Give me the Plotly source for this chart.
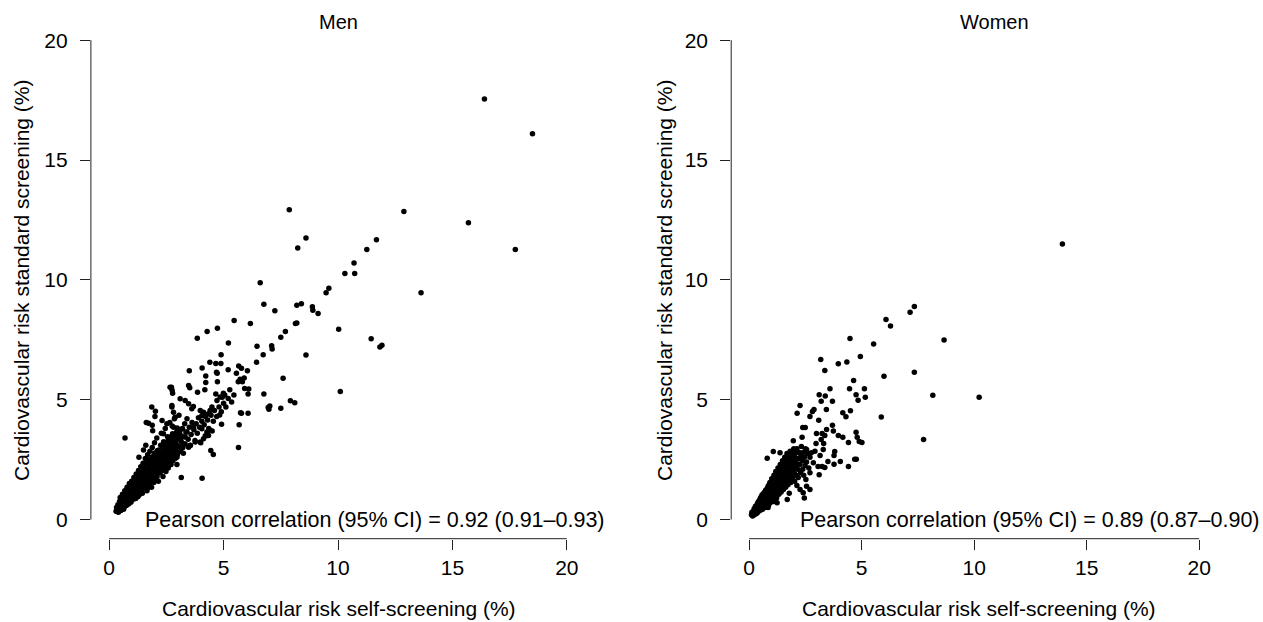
import plotly.graph_objects as go

# values (risk in %)
men_points = [
    (16.4, 17.55), (18.5, 16.1), (7.87, 12.92), (12.88, 12.85), (15.7, 12.38), (17.75, 11.27),
    (8.6, 11.75), (8.24, 11.33), (11.68, 11.67), (11.26, 11.27), (10.7, 10.7), (10.73, 10.26),
    (10.3, 10.26), (6.6, 9.88), (13.63, 9.46), (9.6, 9.65), (9.48, 9.46), (8.2, 8.94), (8.4, 9.0),
    (8.88, 8.88), (8.9, 8.73), (9.13, 8.6), (10.03, 7.94), (8.2, 8.2), (8.14, 8.18), (11.45, 7.54),
    (11.92, 7.27), (11.83, 7.2), (8.6, 6.86), (10.1, 5.34), (8.11, 4.87),
    (6.76, 8.98), (7.24, 8.71), (5.46, 8.3), (6.17, 8.18), (4.73, 7.98), (4.28, 7.84), (3.85, 7.56),
    (7.7, 7.84), (7.5, 7.6), (5.21, 7.37), (6.46, 7.23), (7.1, 7.25), (7.12, 7.12), (4.89, 6.87),
    (6.73, 6.87), (6.44, 6.56), (4.4, 6.56), (4.66, 6.51), (4.88, 6.51), (3.5, 6.21), (4.06, 6.32),
    (4.69, 6.14), (4.72, 6.1), (5.2, 6.25), (5.66, 6.41), (5.78, 6.31), (6.04, 6.21), (5.56, 6.1),
    (5.72, 5.85), (5.82, 5.75), (5.64, 5.75), (5.9, 5.9), (4.22, 5.99), (4.22, 5.72), (4.73, 5.75),
    (3.52, 5.5), (2.72, 5.52), (2.77, 5.27), (3.86, 5.31), (4.18, 5.41), (4.66, 5.24), (4.94, 5.1),
    (5.05, 5.2), (5.27, 5.41), (5.92, 5.47), (6.07, 5.24), (6.1, 5.45), (6.76, 5.24), (7.6, 5.89),
    (7.92, 4.96), (6.95, 4.67), (7.02, 4.74), (7.5, 4.64), (5.74, 4.46), (5.78, 4.43), (6.07, 4.43),
    (5.68, 3.95), (4.91, 3.97), (4.83, 4.36), (4.5, 3.69), (5.65, 3.0), (4.55, 2.71), (4.06, 1.72),
    (3.15, 1.75), (6.98, 4.6),
    (2.74, 4.69), (2.81, 4.48), (2.88, 4.27), (3.1, 5.04), (3.32, 4.97), (3.47, 4.83), (3.61, 4.62),
    (3.68, 4.72), (3.98, 4.55), (4.05, 4.34), (4.12, 4.48), (4.34, 4.41), (4.41, 4.55), (4.49, 4.69),
    (4.71, 4.97), (4.85, 5.11), (4.99, 5.27), (2.52, 4.0), (2.81, 3.85), (3.1, 3.72), (3.4, 3.65),
    (3.68, 3.85), (4.05, 3.79), (4.27, 3.65), (2.37, 3.58), (2.66, 3.44), (3.1, 3.37),
    (4.44, 2.88), (3.24, 2.77), (3.54, 3.09), (3.98, 3.23), (4.12, 3.37), (4.34, 3.51), (4.41, 3.72),
    (2.96, 2.3), (2.7, 2.3), (3.47, 3.02), (3.76, 3.23), (4.2, 3.5), (3.32, 3.44), (3.25, 3.16),
    (2.96, 2.6), (2.52, 2.88), (2.08, 2.25),
    (0.69, 3.4), (1.62, 4.05), (2.02, 4.52), (2.0, 4.3), (1.88, 3.93), (2.31, 4.13), (1.72, 4.02),
    (1.86, 4.69), (2.66, 5.52), (2.74, 4.76), (3.47, 5.59), (2.75, 5.39), (1.3, 2.6), (1.5, 2.9),
    (1.6, 3.1), (1.9, 3.7),
    (0.30, 0.35), (0.32, 0.50), (0.35, 0.42), (0.38, 0.62), (0.40, 0.30), (0.42, 0.55), (0.45, 0.75),
    (0.46, 0.40), (0.48, 0.92), (0.50, 0.52), (0.52, 0.65), (0.55, 0.45), (0.55, 0.85), (0.58, 1.05),
    (0.60, 0.60), (0.62, 0.75), (0.65, 0.95), (0.65, 0.50), (0.68, 1.20), (0.70, 0.70), (0.72, 0.85),
    (0.75, 1.00), (0.75, 0.58), (0.78, 1.35), (0.80, 0.80), (0.82, 0.95), (0.85, 1.15), (0.85, 0.65),
    (0.88, 1.50), (0.90, 0.90), (0.92, 1.05), (0.95, 1.25), (0.95, 0.72), (0.98, 1.60), (1.00, 1.00),
    (1.02, 1.15), (1.05, 0.85), (1.05, 1.35), (1.08, 1.75), (1.10, 1.10), (1.12, 0.95), (1.15, 1.25),
    (1.15, 1.50), (1.18, 1.90), (1.20, 1.05), (1.22, 1.35), (1.25, 1.60), (1.25, 0.95), (1.28, 2.05),
    (1.30, 1.30), (1.32, 1.15), (1.35, 1.45), (1.35, 1.75), (1.38, 2.20), (1.40, 1.25), (1.42, 1.55),
    (1.45, 1.85), (1.45, 1.10), (1.48, 2.35), (1.50, 1.50), (1.52, 1.30), (1.55, 1.65), (1.55, 2.00),
    (1.58, 2.55), (1.60, 1.40), (1.62, 1.75), (1.65, 2.10), (1.65, 1.20), (1.68, 2.70), (1.70, 1.60),
    (1.72, 1.90), (1.75, 2.25), (1.75, 1.45), (1.78, 2.85), (1.80, 1.70), (1.82, 2.00), (1.85, 2.40),
    (1.85, 1.35), (1.88, 3.00), (1.90, 1.80), (1.92, 2.15), (1.95, 2.55), (1.95, 1.55), (1.98, 3.20),
    (2.00, 2.00), (2.02, 1.70), (2.05, 2.30), (2.05, 2.70), (2.08, 3.40), (2.10, 1.90), (2.12, 2.15),
    (2.15, 2.50), (2.15, 1.60), (2.18, 2.90), (2.20, 2.20), (2.22, 1.95), (2.25, 2.60), (2.25, 3.10),
    (2.28, 3.60), (2.30, 2.35), (2.32, 2.05), (2.35, 2.75), (2.35, 1.80), (2.38, 3.25), (2.40, 2.45),
    (2.42, 2.20), (2.45, 2.90), (2.45, 3.80), (2.48, 2.00), (2.50, 2.60), (2.52, 2.35), (2.55, 3.05),
    (2.55, 3.45), (2.58, 2.15), (2.60, 2.75), (2.62, 2.50), (2.65, 3.20), (2.65, 4.05), (2.68, 2.30),
    (2.70, 2.90), (2.72, 2.60), (2.75, 3.35), (2.75, 3.90), (2.78, 2.45), (2.80, 3.05), (2.82, 2.75),
    (2.85, 3.50), (2.85, 4.20), (2.88, 2.55), (2.90, 3.20), (2.92, 2.90), (2.95, 3.65), (2.98, 2.70),
    (3.00, 3.35), (3.05, 3.05), (3.05, 4.35), (3.10, 3.55), (3.12, 2.85), (3.15, 3.25), (3.20, 3.80),
    (3.22, 3.00), (3.25, 3.45), (3.30, 4.00), (3.32, 3.15), (3.35, 3.65), (3.40, 4.20), (3.45, 3.35),
    (3.50, 3.85), (3.55, 3.10), (3.58, 3.55), (3.62, 4.05), (3.70, 3.75), (3.75, 3.30), (3.80, 4.00),
    (3.85, 3.60), (3.90, 4.25), (3.95, 3.85), (4.00, 3.20), (4.05, 4.10), (4.15, 3.95), (4.20, 4.30),
    (4.25, 3.50), (4.30, 4.15), (4.35, 3.80), (4.45, 4.35), (4.55, 4.10), (4.60, 4.55), (4.70, 4.30),
    (4.80, 4.70), (4.90, 4.50), (5.00, 4.85), (5.10, 4.70), (5.20, 5.05), (5.35, 4.90), (5.45, 5.20),
    (0.36, 0.33), (0.41, 0.48), (0.44, 0.62), (0.51, 0.38), (0.53, 0.78), (0.57, 0.56), (0.61, 0.88),
    (0.63, 0.43), (0.67, 0.68), (0.69, 0.83), (0.73, 0.62), (0.74, 1.12), (0.77, 0.77), (0.81, 1.08),
    (0.83, 0.71), (0.86, 0.92), (0.87, 1.27), (0.91, 0.79), (0.93, 1.38), (0.96, 1.02), (0.99, 0.82),
    (1.01, 1.28), (1.04, 1.52), (1.07, 0.98), (1.09, 1.22), (1.11, 1.62), (1.13, 1.38), (1.16, 0.88),
    (1.19, 1.16), (1.21, 1.72), (1.23, 1.48), (1.27, 1.22), (1.29, 1.82), (1.31, 1.02), (1.33, 1.58),
    (1.36, 1.98), (1.39, 1.38), (1.41, 1.68), (1.43, 2.08), (1.46, 1.28), (1.49, 1.72), (1.51, 2.18),
    (1.54, 1.42), (1.57, 1.88), (1.59, 2.32), (1.61, 1.58), (1.64, 1.98), (1.67, 1.32), (1.69, 2.42),
    (1.71, 1.72), (1.74, 2.08), (1.77, 1.58), (1.79, 2.52), (1.81, 1.88), (1.84, 2.22), (1.87, 1.62),
    (1.89, 2.62), (1.91, 1.98), (1.94, 2.35), (1.97, 1.75), (1.99, 2.78), (2.03, 2.12), (2.06, 2.48),
    (2.09, 1.78), (2.11, 2.88), (2.14, 2.28), (2.17, 2.68), (2.19, 2.02), (2.23, 2.42), (2.26, 2.82),
    (2.29, 2.18), (2.33, 2.58), (2.36, 3.02), (2.39, 2.32), (2.43, 2.68), (2.46, 3.12), (2.49, 2.48),
    (2.53, 2.82), (2.57, 3.28), (2.59, 2.42), (2.63, 2.88), (2.67, 3.38), (2.69, 2.68), (2.73, 3.08),
    (2.77, 3.58), (2.79, 2.88), (2.83, 3.28), (2.87, 2.98), (2.91, 3.48), (2.94, 3.12), (2.97, 3.82),
]

women_points = [
    (13.92, 11.5), (7.34, 8.89), (7.15, 8.65), (6.08, 8.35), (6.28, 8.07), (8.66, 7.49), (4.48, 7.55),
    (5.53, 7.32), (4.94, 6.8), (3.18, 6.68), (3.96, 6.5), (4.34, 6.57), (3.36, 6.22), (5.99, 5.98),
    (7.34, 6.15), (4.64, 5.8), (3.59, 5.46), (4.46, 5.46), (5.12, 5.46), (4.75, 5.21), (4.84, 4.98),
    (5.16, 5.1), (3.11, 5.21), (3.38, 5.15), (3.2, 4.93), (3.7, 4.93), (8.16, 5.18), (10.22, 5.1),
    (2.26, 4.76), (2.13, 4.43), (2.88, 4.59), (2.81, 4.51), (3.43, 4.59), (4.16, 4.46), (4.3, 4.29),
    (4.5, 4.54), (5.87, 4.28), (3.09, 4.14), (3.7, 3.93), (2.38, 3.84), (2.49, 3.84), (2.99, 3.59),
    (3.24, 3.59), (3.36, 3.51), (3.2, 3.34), (3.31, 3.17), (2.97, 3.17), (3.96, 3.51), (4.16, 3.43),
    (4.75, 3.64), (4.8, 3.43), (4.89, 3.26), (5.01, 3.21), (4.41, 3.21), (7.75, 3.34), (1.96, 3.29),
    (2.35, 3.43), (2.76, 2.79), (3.15, 2.67), (3.8, 2.84), (3.77, 2.67), (3.5, 2.42), (3.77, 2.31),
    (4.05, 2.42), (4.69, 2.51), (4.76, 2.51), (4.41, 2.21), (3.06, 2.21), (3.24, 2.21), (3.36, 2.17),
    (3.11, 1.87), (0.8, 2.56), (1.07, 2.84), (1.37, 2.79), (2.45, 0.9),
    (2.7, 4.3), (3.44, 3.76), (3.74, 3.69), (2.55, 2.92), (2.92, 2.85), (3.29, 2.92), (2.85, 2.37),
    (2.7, 1.95), (2.55, 1.39), (2.4, 1.12), (1.28, 1.84), (1.9, 1.75), (2.12, 1.42), (2.52, 1.67),
    (2.7, 1.25), (2.26, 1.25), (1.69, 0.84), (1.24, 0.7), (0.84, 0.5),
    (0.10, 0.20), (0.12, 0.30), (0.15, 0.15), (0.18, 0.35), (0.20, 0.25), (0.22, 0.45), (0.25, 0.30),
    (0.28, 0.55), (0.30, 0.38), (0.32, 0.25), (0.35, 0.60), (0.38, 0.45), (0.40, 0.72), (0.42, 0.35),
    (0.45, 0.55), (0.48, 0.85), (0.50, 0.48), (0.52, 0.65), (0.55, 0.95), (0.58, 0.42), (0.60, 0.75),
    (0.62, 1.05), (0.65, 0.58), (0.68, 0.88), (0.70, 1.15), (0.72, 0.50), (0.75, 0.80), (0.78, 1.25),
    (0.80, 0.65), (0.82, 1.00), (0.85, 1.40), (0.88, 0.75), (0.90, 1.10), (0.92, 1.55), (0.95, 0.85),
    (0.98, 1.25), (1.00, 1.70), (1.02, 0.95), (1.05, 1.35), (1.08, 0.75), (1.10, 1.85), (1.12, 1.05),
    (1.15, 1.50), (1.18, 2.00), (1.20, 1.15), (1.22, 0.90), (1.25, 1.65), (1.28, 2.15), (1.30, 1.30),
    (1.32, 1.05), (1.35, 1.80), (1.38, 2.30), (1.40, 1.40), (1.42, 1.15), (1.45, 1.95), (1.48, 2.45),
    (1.50, 1.55), (1.52, 1.25), (1.55, 2.05), (1.58, 2.60), (1.60, 1.70), (1.62, 1.35), (1.65, 2.20),
    (1.68, 2.75), (1.70, 1.80), (1.72, 1.45), (1.75, 2.35), (1.78, 1.10), (1.80, 1.95), (1.82, 2.85),
    (1.85, 1.55), (1.88, 2.50), (1.90, 2.05), (1.92, 1.70), (1.95, 2.65), (1.98, 2.95), (2.00, 2.20),
    (2.02, 1.60), (2.05, 2.75), (2.08, 1.85), (2.10, 2.35), (2.12, 2.95), (2.15, 2.10), (2.18, 1.75),
    (2.20, 2.55), (2.22, 2.80), (2.25, 2.30), (2.28, 1.95), (2.30, 2.65), (2.32, 3.05), (2.35, 2.45),
    (2.38, 2.10), (2.40, 2.80), (2.42, 1.85), (2.45, 2.60), (2.48, 2.25), (2.50, 2.95), (2.55, 2.40),
    (2.60, 2.75), (2.65, 2.15), (2.70, 2.60),
    (0.13, 0.22), (0.17, 0.28), (0.19, 0.18), (0.23, 0.38), (0.26, 0.22), (0.27, 0.48), (0.31, 0.32),
    (0.33, 0.52), (0.36, 0.28), (0.37, 0.68), (0.41, 0.42), (0.43, 0.58), (0.44, 0.78), (0.47, 0.38),
    (0.49, 0.68), (0.51, 0.92), (0.54, 0.52), (0.56, 0.78), (0.57, 1.02), (0.59, 0.62), (0.61, 0.48),
    (0.63, 0.88), (0.66, 1.12), (0.67, 0.68), (0.69, 0.55), (0.71, 0.98), (0.73, 1.22), (0.74, 0.72),
    (0.77, 1.05), (0.79, 0.58), (0.81, 1.32), (0.83, 0.82), (0.86, 1.18), (0.87, 0.62), (0.89, 1.45),
    (0.91, 0.95), (0.93, 1.28), (0.96, 0.72), (0.97, 1.52), (0.99, 1.08), (1.01, 0.82), (1.03, 1.42),
    (1.06, 1.62), (1.07, 1.18), (1.09, 0.92), (1.11, 1.52), (1.13, 1.78), (1.16, 1.28), (1.17, 1.02),
    (1.19, 1.62), (1.21, 1.88), (1.24, 1.38), (1.26, 1.12), (1.27, 1.72), (1.29, 1.98), (1.31, 1.48),
    (1.34, 1.22), (1.36, 1.88), (1.37, 2.12), (1.39, 1.58), (1.41, 1.32), (1.44, 2.02), (1.46, 1.72),
    (1.47, 2.28), (1.49, 1.42), (1.51, 1.88), (1.54, 2.18), (1.56, 1.52), (1.57, 2.42), (1.59, 1.98),
    (1.61, 1.62), (1.64, 2.32), (1.66, 1.78), (1.67, 2.52), (1.69, 2.08), (1.71, 1.58), (1.74, 2.42),
    (1.76, 1.88), (1.77, 2.68), (1.79, 2.18), (1.81, 1.72), (1.84, 2.52), (1.86, 2.02), (1.87, 2.78),
    (1.89, 2.28), (1.91, 1.82), (1.94, 2.48), (1.96, 2.12), (1.97, 2.82), (1.99, 2.38), (2.01, 1.92),
    (2.04, 2.58), (2.06, 2.22), (2.09, 2.52),
]

panel_titles = ["Men", "Women"]
pearson_text = [
    "Pearson correlation (95% CI) = 0.92 (0.91\u20130.93)",
    "Pearson correlation (95% CI) = 0.89 (0.87\u20130.90)",
]
tick_vals = [0, 5, 10, 15, 20]
x_title = "Cardiovascular risk self-screening (%)"
y_title = "Cardiovascular risk standard screening (%)"

W, H = 1263, 622
FONT = "Liberation Sans, Arial, sans-serif"

fig = go.Figure()

for i, pts in enumerate([men_points, women_points]):
    xs = [p[0] for p in pts]
    ys = [p[1] for p in pts]
    sfx = "" if i == 0 else "2"
    fig.add_trace(go.Scatter(
        x=xs, y=ys, mode="markers",
        marker=dict(size=5.5, color="black"),
        xaxis="x" + sfx, yaxis="y" + sfx,
        showlegend=False, hoverinfo="x+y",
    ))

# pixel geometry of the two plot regions (R style: 4% padding around 0-20)
x_domains = [(90.9 / W, 585.1 / W), (731.2 / W, 1217.2 / W)]
y_domain = (1 - 538.7 / H, 1 - 21 / H)

axis_common = dict(
    range=[-0.8, 20.8], showgrid=False, zeroline=False, showline=False,
    ticks="outside", ticklen=10, tickwidth=1, tickcolor="#222",
    tickvals=tick_vals, tickfont=dict(size=21, color="black", family=FONT),
    fixedrange=True,
)
xaxis_style = dict(ticklabelstandoff=0, **axis_common)
yaxis_style = dict(ticklabelstandoff=8, **axis_common)

fig.update_layout(
    width=W, height=H,
    margin=dict(l=0, r=0, t=0, b=0),
    paper_bgcolor="white", plot_bgcolor="white",
    font=dict(family=FONT, color="black", size=21),
    xaxis=dict(domain=x_domains[0], anchor="y", **xaxis_style),
    yaxis=dict(domain=y_domain, anchor="x", **yaxis_style),
    xaxis2=dict(domain=x_domains[1], anchor="y2", **xaxis_style),
    yaxis2=dict(domain=y_domain, anchor="x2", **yaxis_style),
)

# axis lines only from 0 to 20, like base R axes
for sfx in ["", "2"]:
    fig.add_shape(type="line", xref="x" + sfx, yref=("y" + sfx) + " domain",
                  x0=0, x1=20, y0=0, y1=0, line=dict(color="#222", width=1))
    fig.add_shape(type="line", xref=("x" + sfx) + " domain", yref="y" + sfx,
                  x0=0, x1=0, y0=0, y1=20, line=dict(color="#222", width=1))

title_x = [338 / W, 994.6 / W]
xtitle_x = [338.6 / W, 979 / W]
ytitle_x = [22 / W, 665 / W]
pearson_x = [143 / W, 798 / W]

for i in range(2):
    fig.add_annotation(text=panel_titles[i], xref="paper", yref="paper",
                       x=title_x[i], y=1 - 22 / H, xanchor="center", yanchor="middle",
                       showarrow=False, font=dict(size=20))
    fig.add_annotation(text=x_title, xref="paper", yref="paper",
                       x=xtitle_x[i], y=1 - 608 / H, xanchor="center", yanchor="middle",
                       showarrow=False, font=dict(size=21))
    fig.add_annotation(text=y_title, xref="paper", yref="paper", textangle=-90,
                       x=ytitle_x[i], y=1 - 280 / H, xanchor="center", yanchor="middle",
                       showarrow=False, font=dict(size=21))
    fig.add_annotation(text=pearson_text[i], xref="paper", yref="paper",
                       x=pearson_x[i], y=1 - 520 / H, xanchor="left", yanchor="middle",
                       showarrow=False, font=dict(size=21.5))

# page body has a default 8px margin; drop it so the figure fills the window
fig.write_html("out.html", config={"displayModeBar": False},
               post_script="document.body.style.margin='0';")
